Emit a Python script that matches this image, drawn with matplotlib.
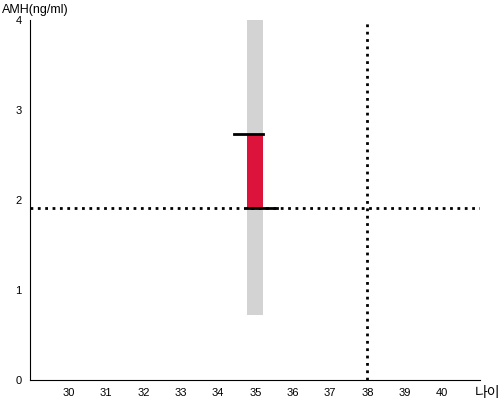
import matplotlib.pyplot as plt

plt.rcParams['font.family'] = ['Liberation Sans', 'Noto Sans CJK KR', 'DejaVu Sans']

# data
age = 35
range_low = 0.72
range_high = 4.0
amh_value = 1.91
amh_ref = 2.73
age_line = 38
x_ticks = list(range(30, 41))
y_ticks = [0, 1, 2, 3, 4]

fig = plt.figure(figsize=(5, 4), dpi=100)
ax = fig.add_axes([0.06, 0.05, 0.90, 0.90])

bar_w = 0.43
ax.bar(age, range_high - range_low, bottom=range_low, width=bar_w, color='#d3d3d3', zorder=1)
ax.bar(age, amh_ref - amh_value, bottom=amh_value, width=bar_w, color='#dc143c', zorder=2)

# short markers at the reference and measured values
ax.plot([age - 0.57, age + bar_w / 2], [amh_ref, amh_ref], color='black', lw=2, zorder=3)
ax.plot([age - bar_w / 2, age + 0.57], [amh_value, amh_value], color='black', lw=2, zorder=3)

ax.axhline(amh_value, color='black', ls=':', lw=2, zorder=2.5)
ax.axvline(age_line, color='black', ls=':', lw=2, zorder=2.5)

ax.set_xlim(28.955, 41.02)
ax.set_ylim(0, 4)
ax.set_xticks(x_ticks)
ax.set_yticks(y_ticks)
ax.tick_params(length=0, labelsize=8, pad=6)
ax.spines['top'].set_visible(False)
ax.spines['right'].set_visible(False)

fig.text(0.004, 0.975, 'AMH(ng/ml)', fontsize=9, va='center', ha='left')
fig.text(0.95, 0.018, '나이', fontsize=10, va='center', ha='left')

fig.savefig('out.png')
